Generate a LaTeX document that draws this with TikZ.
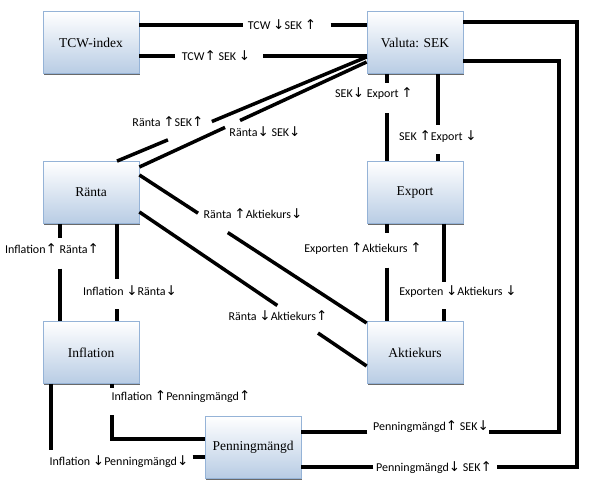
\documentclass[tikz,border=0pt]{standalone}
\usepackage{fontspec}
\setmainfont{Liberation Serif}
\newfontfamily\labelfont{Carlito}
\newfontfamily\arrowfont{DejaVu Sans}
\usetikzlibrary{calc,shadows}
\definecolor{boxline}{RGB}{149,179,215}
\definecolor{boxfill}{RGB}{184,204,228}
\newcommand{\aup}{{\arrowfont\fontsize{13.5}{14}\selectfont ↑}}
\newcommand{\adn}{{\arrowfont\fontsize{13.5}{14}\selectfont ↓}}

\begin{document}
\begin{tikzpicture}[x=1pt,y=1pt,
    boxnode/.style={rectangle, draw=boxline, line width=0.8pt, top color=white, bottom color=boxfill, minimum width=96pt, minimum height=62pt, inner sep=1pt, font=\fontsize{13.5}{15}\selectfont, drop shadow={shadow xshift=1.2pt, shadow yshift=-1.5pt, fill=black!65, opacity=0.9}},
    link/.style={line width=3.5pt},
    lbl/.style={font=\labelfont\fontsize{12}{14}\selectfont, inner sep=0pt},
    ]
    \useasboundingbox (0,0) rectangle (592,496);

    \node [boxnode] (tcw) at (91,453.5) {TCW-index};
    \node [boxnode] (val) at (415,453.5) {Valuta: SEK};
    \node [boxnode] (rnt) at (91,303.5) {Ränta};
    \node [boxnode] (exp) at (415,303.5) {Export};
    \node [boxnode] (inf) at (91,143.5) {Inflation};
    \node [boxnode] (akt) at (415,143.5) {Aktiekurs};
    \node [boxnode] (pen) at (253,49) {Penningmängd};

    % TCW - Valuta
    \coordinate (t1) at ([yshift=17.5pt]tcw.east);
    \coordinate (v1) at ([yshift=17.5pt]val.west);
    \coordinate (t2) at ([yshift=-13.5pt]tcw.east);
    \coordinate (v2) at ([yshift=-13.5pt]val.west);
    \draw [link] (t1) -- ($(t1)!.456!(v1)$) ($(t1)!.842!(v1)$) -- (v1);
    \draw [link] (t2) -- ($(t2)!.158!(v2)$) ($(t2)!.544!(v2)$) -- (v2);
    \node [lbl] (l1) at (282,471) {TCW \adn SEK \aup};
    \node [lbl] (l2) at (216,440) {TCW\aup\ SEK \adn};

    % Valuta - Ränta
    \coordinate (v3) at ([yshift=-14.5pt]val.west);
    \coordinate (r3) at ([xshift=26pt]rnt.north);
    \coordinate (v4) at ([yshift=-19.5pt]val.west);
    \coordinate (r4) at ([yshift=25.5pt]rnt.east);
    \draw [link] (r3) -- ($(r3)!.204!(v3)$) ($(r3)!.38!(v3)$) -- (v3);
    \draw [link] (r4) -- ($(r4)!.377!(v4)$) ($(r4)!.443!(v4)$) -- (v4);
    \node [lbl] (l3) at (168,374) {Ränta \aup SEK\aup};
    \node [lbl] (l4) at (265,364) {Ränta\adn\ SEK\adn};

    % Ränta - Aktiekurs
    \coordinate (r5) at ([yshift=17.5pt]rnt.east);
    \coordinate (a5) at ([yshift=29.5pt]akt.west);
    \coordinate (r6) at ([yshift=-19.5pt]rnt.east);
    \coordinate (a6) at ([yshift=-13.5pt]akt.west);
    \draw [link] (r5) -- ($(r5)!.258!(a5)$) ($(r5)!.389!(a5)$) -- (a5);
    \draw [link] (r6) -- ($(r6)!.607!(a6)$) ($(r6)!.786!(a6)$) -- (a6);
    \node [lbl] (l5) at (253,282) {Ränta \aup Aktiekurs\adn};
    \node [lbl] (l6) at (278,180) {Ränta \adn Aktiekurs\aup};

    % Valuta - Export
    \coordinate (v7) at ([xshift=-28pt]val.south);
    \coordinate (e7) at ([xshift=-28pt]exp.north);
    \coordinate (v8) at ([xshift=23pt]val.south);
    \coordinate (e8) at ([xshift=23pt]exp.north);
    \draw [link] (v7) -- ($(v7)!.10!(e7)$) ($(v7)!.45!(e7)$) -- (e7);
    \draw [link] (v8) -- ($(v8)!.584!(e8)$) ($(v8)!.92!(e8)$) -- (e8);
    \node [lbl] (l7) at (374,402) {SEK\adn\ Export \aup};
    \node [lbl] (l8) at (438,359) {SEK \aup Export \adn};

    % Export - Aktiekurs
    \coordinate (e9) at ([xshift=-28pt]exp.south);
    \coordinate (a9) at ([xshift=-28pt]akt.north);
    \coordinate (e10) at ([xshift=29pt]exp.south);
    \coordinate (a10) at ([xshift=29pt]akt.north);
    \draw [link] (e9) -- ($(e9)!.09!(a9)$) ($(e9)!.45!(a9)$) -- (a9);
    \draw [link] (e10) -- ($(e10)!.596!(a10)$) ($(e10)!.88!(a10)$) -- (a10);
    \node [lbl] (l9) at (363,247) {Exporten \aup Aktiekurs \aup};
    \node [lbl] (l10) at (458,204) {Exporten \adn Aktiekurs \adn};

    % Ränta - Inflation
    \coordinate (r11) at ([xshift=-31pt]rnt.south);
    \coordinate (i11) at ([xshift=-31pt]inf.north);
    \coordinate (r12) at ([xshift=26pt]rnt.south);
    \coordinate (i12) at ([xshift=26pt]inf.north);
    \draw [link] (r11) -- ($(r11)!.15!(i11)$) ($(r11)!.46!(i11)$) -- (i11);
    \draw [link] (r12) -- ($(r12)!.566!(i12)$) ($(r12)!.879!(i12)$) -- (i12);
    \node [lbl] (l11) at (52,247) {Inflation\aup\ Ränta\aup};
    \node [lbl] (l12) at (130,205) {Inflation \adn Ränta\adn};

    % Inflation - Penningmängd
    \coordinate (i13) at ([xshift=21pt]inf.south);
    \coordinate (p13) at ([yshift=8pt]pen.west);
    \coordinate (c13) at (i13 |- p13);
    \coordinate (i14) at ([xshift=-40pt]inf.south);
    \coordinate (p14) at ([yshift=-10pt]pen.west);
    \coordinate (c14) at (i14 |- p14);
    \draw [link] (i13) -- ([yshift=-4.5pt]i13) ([yshift=-31.5pt]i13) -- (c13) -- (p13);
    \draw [link] (i14) -- ([yshift=7pt]c14) ([xshift=-12pt]p14) -- (p14);
    \node [lbl] (l13) at (181,99) {Inflation \aup Penningmängd\aup};
    \node [lbl] (l14) at (119,34) {Inflation \adn Penningmängd\adn};

    % Valuta - Penningmängd
    \coordinate (v15) at ([yshift=-18.5pt]val.east);
    \coordinate (k15) at (559,64);
    \coordinate (p15) at ([yshift=15pt]pen.east);
    \coordinate (v16) at ([yshift=20.5pt]val.east);
    \coordinate (k16) at (577,29);
    \coordinate (p16) at ([yshift=-20pt]pen.east);
    \draw [link] (v15) -| (k15) -- ([xshift=-70pt]k15) ([xshift=66pt]p15) -- (p15);
    \draw [link] (v16) -| (k16) -- ([xshift=-80pt]k16) ([xshift=72pt]p16) -- (p16);
    \node [lbl] (l15) at (431,69) {Penningmängd\aup\ SEK\adn};
    \node [lbl] (l16) at (434,28) {Penningmängd\adn\ SEK\aup};

\end{tikzpicture}
\end{document}
